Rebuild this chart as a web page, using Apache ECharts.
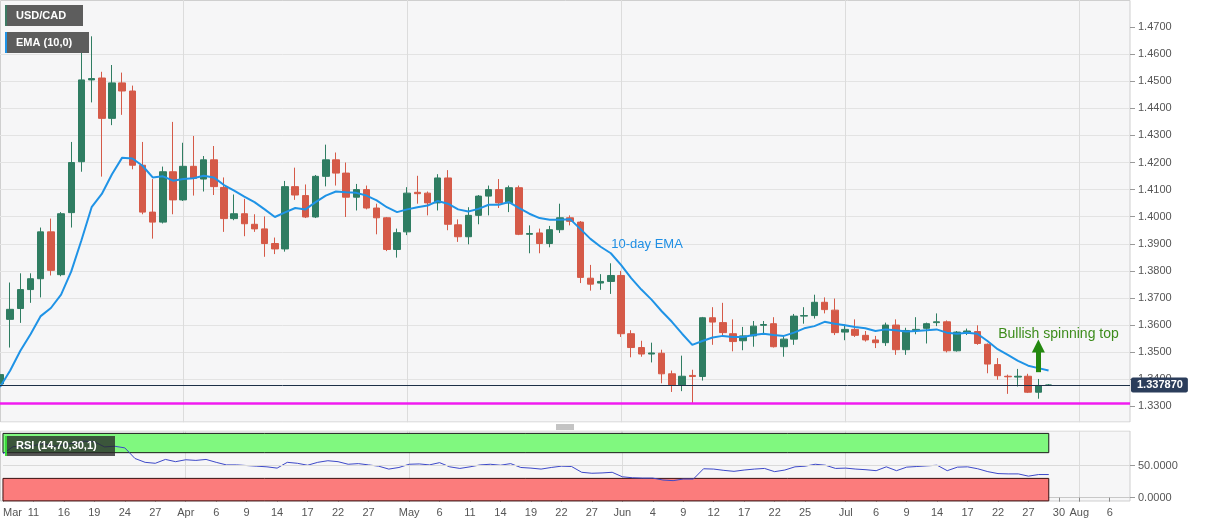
<!DOCTYPE html>
<html><head><meta charset="utf-8">
<script src="https://cdn.jsdelivr.net/npm/echarts@6/dist/echarts.min.js"></script>
<style>html,body{margin:0;padding:0;background:#fff;}#c{width:1207px;height:526px;}</style>
</head><body><div id="c"></div>
<script>
const dates = [
 'Mar 6','Mar 9','Mar 10','Mar 11','Mar 12','Mar 13','Mar 16','Mar 17','Mar 18','Mar 19','Mar 20','Mar 23','Mar 24','Mar 25','Mar 26','Mar 27','Mar 30','Mar 31',
 'Apr 1','Apr 2','Apr 3','Apr 6','Apr 7','Apr 8','Apr 9','Apr 10','Apr 13','Apr 14','Apr 15','Apr 16','Apr 17','Apr 20','Apr 21','Apr 22','Apr 23','Apr 24','Apr 27','Apr 28','Apr 29','Apr 30',
 'May 1','May 4','May 5','May 6','May 7','May 8','May 11','May 12','May 13','May 14','May 15','May 18','May 19','May 20','May 21','May 22','May 25','May 26','May 27','May 28','May 29',
 'Jun 1','Jun 2','Jun 3','Jun 4','Jun 5','Jun 8','Jun 9','Jun 10','Jun 11','Jun 12','Jun 15','Jun 16','Jun 17','Jun 18','Jun 19','Jun 22','Jun 23','Jun 24','Jun 25','Jun 26','Jun 29','Jun 30',
 'Jul 1','Jul 2','Jul 3','Jul 6','Jul 7','Jul 8','Jul 9','Jul 10','Jul 13','Jul 14','Jul 15','Jul 16','Jul 17','Jul 20','Jul 21','Jul 22','Jul 23','Jul 24','Jul 27','Jul 28','Jul 29','Jul 30','Jul 31',
 'Aug 3','Aug 4','Aug 5','Aug 6','Aug 7','Aug 10'
];
const opens = [1.3383,1.3621,1.3661,1.3731,1.3771,1.3944,1.3786,1.4015,1.4203,1.4505,
 1.4512,1.4363,1.4494,1.4464,1.4190,1.4017,1.3980,1.4166,1.4062,1.4186,
 1.4139,1.4210,1.4108,1.3993,1.4011,1.3972,1.3955,1.3901,1.3881,1.4111,
 1.4078,1.3999,1.4149,1.4210,1.4161,1.4072,1.4100,1.4032,1.3996,1.3879,
 1.3944,1.4090,1.4087,1.4051,1.4143,1.3970,1.3926,1.4005,1.4076,1.4100,
 1.4051,1.4107,1.3935,1.3940,1.3901,1.3952,1.3996,1.3980,1.3773,1.3755,
 1.3761,1.3783,1.3568,1.3517,1.3493,1.3496,1.3420,1.3379,1.3414,1.3410,
 1.3627,1.3609,1.3568,1.3542,1.3560,1.3599,1.3605,1.3520,1.3548,1.3633,
 1.3635,1.3684,1.3655,1.3574,1.3584,1.3562,1.3545,1.3535,1.3600,1.3509,
 1.3580,1.3588,1.3609,1.3612,1.3505,1.3574,1.3576,1.3529,1.3454,1.3411,
 1.3408,1.3411,1.3352,1.3378];
const closes = [1.3417,1.3658,1.3731,1.3771,1.3944,1.3802,1.4011,1.4200,1.4505,1.4510,
 1.4363,1.4494,1.4464,1.4190,1.4017,1.3980,1.4166,1.4062,1.4186,1.4141,
 1.4210,1.4111,1.3993,1.4011,1.3974,1.3955,1.3901,1.3881,1.4111,1.4080,
 1.3999,1.4149,1.4210,1.4161,1.4072,1.4100,1.4032,1.3996,1.3879,1.3941,
 1.4087,1.4085,1.4051,1.4143,1.3972,1.3926,1.4005,1.4076,1.4100,1.4051,
 1.4107,1.3935,1.3938,1.3901,1.3952,1.3996,1.3983,1.3776,1.3751,1.3761,
 1.3783,1.3568,1.3517,1.3493,1.3497,1.3420,1.3379,1.3411,1.3410,1.3627,
 1.3611,1.3572,1.3539,1.3560,1.3596,1.3602,1.3520,1.3548,1.3633,1.3635,
 1.3684,1.3657,1.3572,1.3584,1.3562,1.3545,1.3535,1.3600,1.3509,1.3580,
 1.3584,1.3605,1.3612,1.3505,1.3574,1.3578,1.3532,1.3456,1.3413,1.3409,
 1.3411,1.3352,1.3377,1.33787];
const lows = [1.3365,1.3517,1.3608,1.3682,1.3702,1.3783,1.3780,1.3960,1.4166,1.4422,
 1.4148,1.4338,1.4376,1.4175,1.4009,1.3919,1.3975,1.4009,1.4058,1.4078,
 1.4093,1.4080,1.3944,1.3987,1.3928,1.3944,1.3852,1.3862,1.3871,1.4062,
 1.3995,1.3995,1.4112,1.4115,1.3999,1.4023,1.4027,1.3935,1.3873,1.3849,
 1.3932,1.4048,1.4005,1.4023,1.3950,1.3907,1.3898,1.3972,1.4005,1.4032,
 1.4017,1.3932,1.3865,1.3865,1.3887,1.3940,1.3968,1.3755,1.3727,1.3730,
 1.3715,1.3556,1.3481,1.3483,1.3462,1.3385,1.3353,1.3356,1.3312,1.3395,
 1.3527,1.3556,1.3503,1.3507,1.3520,1.3566,1.3517,1.3483,1.3527,1.3605,
 1.3624,1.3643,1.3563,1.3544,1.3556,1.3539,1.3515,1.3523,1.3490,1.3490,
 1.3566,1.3532,1.3596,1.3499,1.3502,1.3563,1.3527,1.3422,1.3398,1.3346,
 1.3373,1.3349,1.3328,1.3376];
const highs = [1.3438,1.3757,1.3791,1.3791,1.3960,1.3993,1.4017,1.4276,1.4651,1.4666,
 1.4535,1.4560,1.4532,1.4484,1.4276,1.4139,1.4185,1.4350,1.4273,1.4298,
 1.4224,1.4261,1.4145,1.4082,1.4066,1.4009,1.4001,1.3923,1.4132,1.4181,
 1.4119,1.4154,1.4266,1.4237,1.4200,1.4121,1.4115,1.4048,1.3999,1.3956,
 1.4109,1.4151,1.4093,1.4157,1.4172,1.3990,1.4035,1.4080,1.4115,1.4139,
 1.4115,1.4115,1.3968,1.3956,1.3966,1.4048,1.4005,1.3984,1.3822,1.3788,
 1.3828,1.3800,1.3581,1.3542,1.3535,1.3509,1.3432,1.3487,1.3435,1.3630,
 1.3666,1.3682,1.3621,1.3593,1.3615,1.3615,1.3629,1.3560,1.3641,1.3666,
 1.3712,1.3702,1.3698,1.3602,1.3621,1.3578,1.3560,1.3609,1.3621,1.3590,
 1.3629,1.3609,1.3643,1.3617,1.3578,1.3587,1.3599,1.3532,1.3478,1.3417,
 1.3438,1.3420,1.3401,1.3382];
const ema10 = [1.3371,1.3432,1.3505,1.3566,1.3633,1.3663,1.3712,1.3798,1.3913,1.4035,
 1.4084,1.4157,1.4218,1.4215,1.4188,1.4145,1.4149,1.4133,1.4139,1.4142,
 1.4151,1.4145,1.4117,1.4096,1.4074,1.4054,1.4027,1.3999,1.4016,1.4032,
 1.4027,1.4054,1.4078,1.4093,1.4090,1.4088,1.4078,1.4060,1.4035,1.4017,
 1.4027,1.4035,1.4041,1.4058,1.4048,1.4027,1.4019,1.4029,1.4044,1.4044,
 1.4054,1.4032,1.4011,1.3995,1.3989,1.3989,1.3991,1.3955,1.3918,1.3889,
 1.3865,1.3822,1.3773,1.3731,1.3694,1.3651,1.3612,1.3568,1.3527,1.3541,
 1.3554,1.3560,1.3556,1.3556,1.3563,1.3568,1.3563,1.3560,1.3572,1.3588,
 1.3596,1.3612,1.3605,1.3599,1.3593,1.3588,1.3578,1.3584,1.3581,1.3576,
 1.3578,1.3581,1.3584,1.3572,1.3568,1.3572,1.3568,1.3541,1.3511,1.3490,
 1.3468,1.3450,1.3441,1.3432];
const rsi14 = [68.5,79.5,80,81,84,80,82,85,88,87,
 79,80,77.5,61,55,53.5,59.5,56,59,58,
 59.5,55,51,51,50,49,48,46,55,53.5,
 50.5,55,57.5,56,52,53,51,49,44.5,47,
 52,52.5,51,54.5,48,45.5,48,51,52,50.5,
 53,47,46,44.5,47,49,48.5,39.5,38,38.5,
 39.5,32.5,31,30.5,30.5,27.5,26.5,29,29,45,
 44.5,42.5,41,43,44.5,45.5,40.5,43,48,49,
 52,50.5,45.5,46,44.5,43.5,42,48,42,47.5,
 48.5,49.5,50.5,42,47.5,48,45,40.5,37.5,37,
 37,33.5,36,36];
const priceTicks = [1.33,1.34,1.35,1.36,1.37,1.38,1.39,1.40,1.41,1.42,1.43,1.44,1.45,1.46,1.47];
const rsiTicks = [0, 50];
const tickDates = ['Mar 6','Mar 11','Mar 16','Mar 19','Mar 24','Mar 27','Apr 1','Apr 6','Apr 9','Apr 14','Apr 17','Apr 22','Apr 27',
 'May 1','May 6','May 11','May 14','May 19','May 22','May 27','Jun 1','Jun 4','Jun 9','Jun 12','Jun 17','Jun 22','Jun 25',
 'Jul 1','Jul 6','Jul 9','Jul 14','Jul 17','Jul 22','Jul 27','Jul 30','Aug 3','Aug 6'];
const tickTexts = ['Mar','11','16','19','24','27','Apr','6','9','14','17','22','27',
 'May','6','11','14','19','22','27','Jun','4','9','12','17','22','25',
 'Jul','6','9','14','17','22','27','30','Aug','6'];
const monthStarts = ['Apr 1','May 1','Jun 1','Jul 1','Aug 3'];
const lastPrice = 1.33787;
const supportLevel = 1.3311;
const rsiUpper = 70, rsiLower = 30;

const FONT = "'Liberation Sans', Arial, sans-serif";
const UP = '#2f7d62', DOWN = '#d55a48';
const candles = opens.map((o, i) => [o, closes[i], lows[i], highs[i]]);
const tickSet = new Set(tickDates);
const monthSet = new Set(monthStarts);
const lastIdx = opens.length - 1;

const chart = echarts.init(document.getElementById('c'), null, {renderer: 'canvas'});
chart.setOption({
  animation: false,
  backgroundColor: '#ffffff',
  textStyle: {fontFamily: FONT},
  grid: [
    {left: 0, width: 1130, top: -4.04, height: 437.44},
    {left: 0, width: 1130, top: 430.83, height: 70.07}
  ],
  xAxis: [
    {type: 'category', gridIndex: 0, data: dates, boundaryGap: false,
     axisLine: {show: false}, axisTick: {show: false}, axisLabel: {show: false},
     splitLine: {show: true, interval: (i, v) => monthSet.has(v), lineStyle: {color: '#dcdcdc'}}},
    {type: 'category', gridIndex: 1, data: dates, boundaryGap: false,
     axisLine: {show: true, lineStyle: {color: '#c8c8c8'}},
     axisTick: {show: true, interval: (i, v) => tickSet.has(v), length: 4, lineStyle: {color: '#888'}},
     axisLabel: {show: true, interval: (i, v) => tickSet.has(v), color: '#555', fontSize: 11, margin: 7, fontFamily: FONT,
       formatter: (v) => { const k = tickDates.indexOf(v); if (k < 0) return ''; return k === 0 ? '{l|' + tickTexts[k] + '}' : tickTexts[k]; },
       rich: {l: {padding: [0, 0, 0, 19], color: '#555', fontSize: 11, fontFamily: FONT}}},
     splitLine: {show: true, interval: (i, v) => monthSet.has(v), lineStyle: {color: '#dcdcdc'}}}
  ],
  yAxis: [
    {type: 'value', gridIndex: 0, position: 'right', min: 1.32, max: 1.48, interval: 0.01,
     axisLine: {show: false},
     axisTick: {show: true, length: 5, customValues: priceTicks, lineStyle: {color: '#999'}},
     axisLabel: {show: true, color: '#555', fontSize: 11, margin: 8, fontFamily: FONT,
       customValues: priceTicks, formatter: (v) => v.toFixed(4)},
     splitLine: {show: true, showMinLine: false, showMaxLine: false, lineStyle: {color: '#e3e3e3'}}},
    {type: 'value', gridIndex: 1, position: 'right', min: -5, max: 104,
     axisLine: {show: false},
     axisTick: {show: true, length: 5, customValues: rsiTicks, lineStyle: {color: '#999'}},
     axisLabel: {show: true, color: '#555', fontSize: 11, margin: 8, fontFamily: FONT, customValues: rsiTicks,
       formatter: (v) => (v === 0 || v === 50) ? v.toFixed(4) : ''},
     splitLine: {show: false}}
  ],
  series: [
    {type: 'candlestick', xAxisIndex: 0, yAxisIndex: 0, data: candles, barWidth: 7,
     itemStyle: {color: UP, color0: DOWN, borderColor: UP, borderColor0: DOWN, borderWidth: 1},
     markLine: {silent: true, symbol: ['none', 'none'], animation: false, precision: 6,
       data: [
         {yAxis: lastPrice, lineStyle: {color: '#1d3047', width: 1, type: 'solid'},
          label: {show: true, position: 'end', distance: 1, formatter: lastPrice.toFixed(6), color: '#fff', fontWeight: 'bold',
                  fontSize: 11, fontFamily: FONT, backgroundColor: '#2b3d5b', padding: [2, 5, 2, 6], borderRadius: 2}},
         {yAxis: supportLevel, lineStyle: {color: '#f01cf0', width: 2.5, type: 'solid'}, label: {show: false}},
         [{coord: [dates[lastIdx - 1], 1.3426], symbol: 'none'},
          {coord: [dates[lastIdx - 1], 1.3523], symbol: 'triangle', symbolSize: 13,
           lineStyle: {color: '#23880f', width: 5, type: 'solid'}, label: {show: false}}]
       ]},
     markPoint: {silent: true, symbol: 'circle', symbolSize: 1, itemStyle: {color: 'rgba(0,0,0,0)'},
       data: [
         {coord: [dates[60], 1.3899], label: {show: true, position: 'right', distance: 0, formatter: '10-day EMA', color: '#1f8fe4', fontSize: 13, fontFamily: FONT}},
         {coord: [dates[98], 1.3567], label: {show: true, position: 'right', distance: 0, formatter: 'Bullish spinning top', color: '#3d8c1c', fontSize: 14, fontFamily: FONT}}
       ]}
    },
    {type: 'line', name: 'EMA', xAxisIndex: 0, yAxisIndex: 0, data: ema10, showSymbol: false, smooth: false,
     lineStyle: {color: '#1f93e6', width: 2}, itemStyle: {color: '#1f93e6'}, z: 3},
    {type: 'line', name: 'RSI', xAxisIndex: 1, yAxisIndex: 1, data: rsi14, showSymbol: false,
     lineStyle: {color: '#3c48c8', width: 1}, itemStyle: {color: '#3c48c8'}, z: 4,
     markLine: {silent: true, symbol: ['none', 'none'], label: {show: false},
       data: [{yAxis: 50, lineStyle: {color: '#dadada', width: 1, type: 'solid'}}]},
     markArea: {silent: true,
       data: [
         [{xAxis: dates[0], yAxis: rsiUpper, itemStyle: {color: '#80f87f', borderColor: '#1a1a1a', borderWidth: 1}}, {xAxis: dates[lastIdx], yAxis: 100}],
         [{xAxis: dates[0], yAxis: -5, itemStyle: {color: '#fb7c7c', borderColor: '#3a1010', borderWidth: 1}}, {xAxis: dates[lastIdx], yAxis: rsiLower}]
       ]}
    }
  ],
  graphic: [
    {type: 'rect', z: -1, silent: true, shape: {x: 0.5, y: 0.5, width: 1129.5, height: 421.5}, style: {fill: '#f6f6f7', stroke: '#cfcfcf', lineWidth: 1}},
    {type: 'rect', z: -1, silent: true, shape: {x: 0.5, y: 431, width: 1129.5, height: 70}, style: {fill: '#f6f6f7', stroke: '#cfcfcf', lineWidth: 1}},
    {type: 'rect', z: 5, silent: true, shape: {x: 0, y: 422.5, width: 1131, height: 8}, style: {fill: '#ffffff'}},
    {type: 'line', z: 6, silent: true, shape: {x1: 556, y1: 425, x2: 574, y2: 425}, style: {stroke: '#888', lineWidth: 1}},
    {type: 'line', z: 6, silent: true, shape: {x1: 556, y1: 427, x2: 574, y2: 427}, style: {stroke: '#888', lineWidth: 1}},
    {type: 'line', z: 6, silent: true, shape: {x1: 556, y1: 429, x2: 574, y2: 429}, style: {stroke: '#888', lineWidth: 1}},
    {type: 'rect', z: 10, silent: true, shape: {x: 5, y: 5, width: 78, height: 21}, style: {fill: '#5d5d5d'}},
    {type: 'rect', z: 11, silent: true, shape: {x: 5, y: 5, width: 2, height: 21}, style: {fill: '#3d7a64'}},
    {type: 'text', z: 12, silent: true, style: {x: 16, y: 15.5, text: 'USD/CAD', fill: '#ffffff', font: 'bold 11px ' + FONT, verticalAlign: 'middle'}},
    {type: 'rect', z: 10, silent: true, shape: {x: 5, y: 32, width: 84, height: 21}, style: {fill: '#5d5d5d'}},
    {type: 'rect', z: 11, silent: true, shape: {x: 5, y: 32, width: 2, height: 21}, style: {fill: '#1f93e6'}},
    {type: 'text', z: 12, silent: true, style: {x: 16, y: 42.5, text: 'EMA (10,0)', fill: '#ffffff', font: 'bold 11px ' + FONT, verticalAlign: 'middle'}},
    {type: 'rect', z: 10, silent: true, shape: {x: 5, y: 436, width: 110, height: 20}, style: {fill: 'rgba(40,40,40,0.78)'}},
    {type: 'rect', z: 11, silent: true, shape: {x: 5, y: 436, width: 2, height: 20}, style: {fill: '#3ad83a'}},
    {type: 'text', z: 12, silent: true, style: {x: 16, y: 446, text: 'RSI (14,70,30,1)', fill: '#ffffff', font: 'bold 11px ' + FONT, verticalAlign: 'middle'}}
  ]
});
</script>
</body></html>
